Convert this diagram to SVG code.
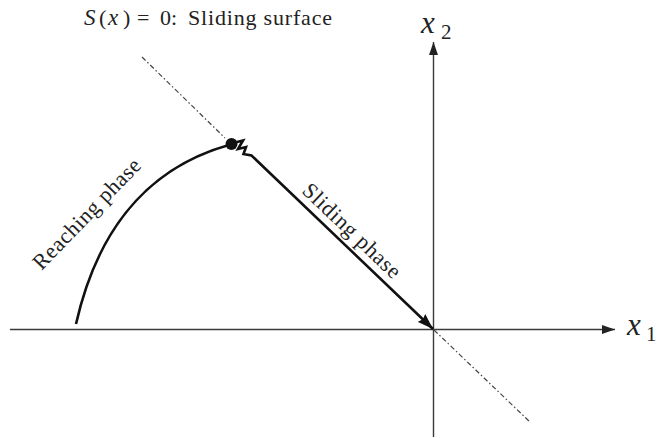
<svg xmlns="http://www.w3.org/2000/svg" width="657" height="438" viewBox="0 0 657 438">
<defs>
<style>
.axis{stroke:#3a3a3a;stroke-width:1.4;fill:none}
.surf{stroke:#444;stroke-width:1.2;fill:none;stroke-dasharray:5 2.5 1.5 2.5}
.traj{stroke:#111;stroke-width:2.6;fill:none;stroke-linejoin:miter}
.lbl{font-family:"Times New Roman","Liberation Serif",serif;font-size:22px;fill:#222}
.math{font-family:"Times New Roman","Liberation Serif",serif;fill:#222}
</style>
<marker id="axhead" markerUnits="userSpaceOnUse" markerWidth="14" markerHeight="10" refX="13" refY="5" orient="auto">
<path d="M0,0.5 L13,5 L0,9.5 z" fill="#222"/>
</marker>
<marker id="slhead" markerUnits="userSpaceOnUse" markerWidth="17" markerHeight="12" refX="16" refY="6" orient="auto">
<path d="M0,0.5 L16,6 L0,11.5 L2,6 z" fill="#111"/>
</marker>
</defs>
<rect width="657" height="438" fill="#fff"/>

<g id="axes">
<line class="axis" x1="10" y1="329.5" x2="615" y2="329.5" marker-end="url(#axhead)"/>
<line class="axis" x1="433.5" y1="437" x2="433.5" y2="42" marker-end="url(#axhead)"/>
</g>

<g id="surface">
<line class="surf" x1="142" y1="57" x2="225" y2="138"/>
<line class="surf" x1="434" y1="330" x2="530" y2="422"/>
</g>

<g id="reaching">
<path class="traj" d="M76,324 C95,240 140,170 229,145"/>
</g>

<g id="point">
<circle cx="231.5" cy="144" r="6" fill="#111"/>
</g>

<g id="connectors">
<polyline class="traj" points="235,142.5 243,140.5 238,149 246,147 243.5,154 251.5,155.5 433,329" marker-end="url(#slhead)"/>
</g>

<g id="labels">
<text class="lbl" y="25"><tspan x="84" font-style="italic" font-size="23">S</tspan><tspan x="99">(</tspan><tspan x="108" font-style="italic" font-size="23">x</tspan><tspan x="123">)</tspan><tspan x="137">=</tspan><tspan x="160">0:</tspan></text>
<text class="lbl" x="188" y="25" textLength="144" lengthAdjust="spacing">Sliding surface</text>
<text class="lbl" transform="translate(41.5,271) rotate(-46)" textLength="145" lengthAdjust="spacing">Reaching phase</text>
<text class="lbl" transform="translate(301,192) rotate(43.7)" textLength="127" lengthAdjust="spacing">Sliding phase</text>
<text class="math" x="421" y="33"><tspan font-style="italic" font-size="31">x</tspan><tspan x="441" y="39" font-size="21">2</tspan></text>
<text class="math" x="627" y="335"><tspan font-style="italic" font-size="31">x</tspan><tspan x="646" y="341" font-size="21">1</tspan></text>
</g>
</svg>
